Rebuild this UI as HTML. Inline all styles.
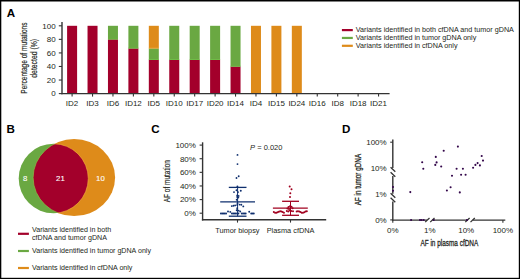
<!DOCTYPE html>
<html><head><meta charset="utf-8"><style>
html,body{margin:0;padding:0;background:#fff;}
svg{display:block;font-family:"Liberation Sans", sans-serif;}
</style></head><body>
<svg width="520" height="279" viewBox="0 0 520 279">
<rect x="0" y="0" width="520" height="279" fill="#fff"/>
<rect x="0.00" y="0.00" width="520.00" height="1.50" fill="#000"/>
<rect x="0.00" y="0.00" width="1.30" height="279.00" fill="#000"/>
<rect x="518.80" y="0.00" width="1.20" height="279.00" fill="#000"/>
<rect x="0.00" y="277.80" width="520.00" height="1.20" fill="#000"/>
<text x="6.80" y="16.80" font-size="11.6" text-anchor="start" font-weight="bold" fill="#000"  >A</text>
<rect x="67.10" y="25.80" width="10.00" height="67.80" fill="#A3002B"/>
<line x1="72.10" y1="93.60" x2="72.10" y2="96.60" stroke="#333" stroke-width="1.1" stroke-linecap="butt"/>
<text x="72.10" y="106.30" font-size="8.0" text-anchor="middle" font-weight="normal" fill="#231F20"  >ID2</text>
<rect x="87.53" y="25.80" width="10.00" height="67.80" fill="#A3002B"/>
<line x1="92.53" y1="93.60" x2="92.53" y2="96.60" stroke="#333" stroke-width="1.1" stroke-linecap="butt"/>
<text x="92.53" y="106.30" font-size="8.0" text-anchor="middle" font-weight="normal" fill="#231F20"  >ID3</text>
<rect x="107.96" y="39.36" width="10.00" height="54.24" fill="#A3002B"/>
<rect x="107.96" y="25.80" width="10.00" height="13.56" fill="#6AA842"/>
<rect x="107.96" y="38.66" width="10.00" height="0.70" fill="#63C23A"/>
<line x1="112.96" y1="93.60" x2="112.96" y2="96.60" stroke="#333" stroke-width="1.1" stroke-linecap="butt"/>
<text x="112.96" y="106.30" font-size="8.0" text-anchor="middle" font-weight="normal" fill="#231F20"  >ID6</text>
<rect x="128.39" y="48.38" width="10.00" height="45.22" fill="#A3002B"/>
<rect x="128.39" y="25.80" width="10.00" height="22.58" fill="#6AA842"/>
<rect x="128.39" y="47.68" width="10.00" height="0.70" fill="#63C23A"/>
<line x1="133.39" y1="93.60" x2="133.39" y2="96.60" stroke="#333" stroke-width="1.1" stroke-linecap="butt"/>
<text x="133.39" y="106.30" font-size="8.0" text-anchor="middle" font-weight="normal" fill="#231F20"  >ID12</text>
<rect x="148.82" y="59.70" width="10.00" height="33.90" fill="#A3002B"/>
<rect x="148.82" y="48.38" width="10.00" height="11.32" fill="#6AA842"/>
<rect x="148.82" y="59.00" width="10.00" height="0.70" fill="#63C23A"/>
<rect x="148.82" y="25.80" width="10.00" height="22.58" fill="#DE8B1A"/>
<rect x="148.82" y="47.68" width="10.00" height="0.70" fill="#F2A434"/>
<line x1="153.82" y1="93.60" x2="153.82" y2="96.60" stroke="#333" stroke-width="1.1" stroke-linecap="butt"/>
<text x="153.82" y="106.30" font-size="8.0" text-anchor="middle" font-weight="normal" fill="#231F20"  >ID5</text>
<rect x="169.25" y="59.70" width="10.00" height="33.90" fill="#A3002B"/>
<rect x="169.25" y="25.80" width="10.00" height="33.90" fill="#6AA842"/>
<rect x="169.25" y="59.00" width="10.00" height="0.70" fill="#63C23A"/>
<line x1="174.25" y1="93.60" x2="174.25" y2="96.60" stroke="#333" stroke-width="1.1" stroke-linecap="butt"/>
<text x="174.25" y="106.30" font-size="8.0" text-anchor="middle" font-weight="normal" fill="#231F20"  >ID10</text>
<rect x="189.68" y="59.70" width="10.00" height="33.90" fill="#A3002B"/>
<rect x="189.68" y="25.80" width="10.00" height="33.90" fill="#6AA842"/>
<rect x="189.68" y="59.00" width="10.00" height="0.70" fill="#63C23A"/>
<line x1="194.68" y1="93.60" x2="194.68" y2="96.60" stroke="#333" stroke-width="1.1" stroke-linecap="butt"/>
<text x="194.68" y="106.30" font-size="8.0" text-anchor="middle" font-weight="normal" fill="#231F20"  >ID17</text>
<rect x="210.11" y="59.70" width="10.00" height="33.90" fill="#A3002B"/>
<rect x="210.11" y="25.80" width="10.00" height="33.90" fill="#6AA842"/>
<rect x="210.11" y="59.00" width="10.00" height="0.70" fill="#63C23A"/>
<line x1="215.11" y1="93.60" x2="215.11" y2="96.60" stroke="#333" stroke-width="1.1" stroke-linecap="butt"/>
<text x="215.11" y="106.30" font-size="8.0" text-anchor="middle" font-weight="normal" fill="#231F20"  >ID20</text>
<rect x="230.54" y="66.48" width="10.00" height="27.12" fill="#A3002B"/>
<rect x="230.54" y="25.80" width="10.00" height="40.68" fill="#6AA842"/>
<rect x="230.54" y="65.78" width="10.00" height="0.70" fill="#63C23A"/>
<line x1="235.54" y1="93.60" x2="235.54" y2="96.60" stroke="#333" stroke-width="1.1" stroke-linecap="butt"/>
<text x="235.54" y="106.30" font-size="8.0" text-anchor="middle" font-weight="normal" fill="#231F20"  >ID14</text>
<rect x="250.97" y="25.80" width="10.00" height="67.80" fill="#DE8B1A"/>
<line x1="255.97" y1="93.60" x2="255.97" y2="96.60" stroke="#333" stroke-width="1.1" stroke-linecap="butt"/>
<text x="255.97" y="106.30" font-size="8.0" text-anchor="middle" font-weight="normal" fill="#231F20"  >ID4</text>
<rect x="271.40" y="25.80" width="10.00" height="67.80" fill="#DE8B1A"/>
<line x1="276.40" y1="93.60" x2="276.40" y2="96.60" stroke="#333" stroke-width="1.1" stroke-linecap="butt"/>
<text x="276.40" y="106.30" font-size="8.0" text-anchor="middle" font-weight="normal" fill="#231F20"  >ID15</text>
<rect x="291.83" y="25.80" width="10.00" height="67.80" fill="#DE8B1A"/>
<line x1="296.83" y1="93.60" x2="296.83" y2="96.60" stroke="#333" stroke-width="1.1" stroke-linecap="butt"/>
<text x="296.83" y="106.30" font-size="8.0" text-anchor="middle" font-weight="normal" fill="#231F20"  >ID24</text>
<line x1="317.26" y1="93.60" x2="317.26" y2="96.60" stroke="#333" stroke-width="1.1" stroke-linecap="butt"/>
<text x="317.26" y="106.30" font-size="8.0" text-anchor="middle" font-weight="normal" fill="#231F20"  >ID16</text>
<line x1="337.69" y1="93.60" x2="337.69" y2="96.60" stroke="#333" stroke-width="1.1" stroke-linecap="butt"/>
<text x="337.69" y="106.30" font-size="8.0" text-anchor="middle" font-weight="normal" fill="#231F20"  >ID8</text>
<line x1="358.12" y1="93.60" x2="358.12" y2="96.60" stroke="#333" stroke-width="1.1" stroke-linecap="butt"/>
<text x="358.12" y="106.30" font-size="8.0" text-anchor="middle" font-weight="normal" fill="#231F20"  >ID18</text>
<line x1="378.55" y1="93.60" x2="378.55" y2="96.60" stroke="#333" stroke-width="1.1" stroke-linecap="butt"/>
<text x="378.55" y="106.30" font-size="8.0" text-anchor="middle" font-weight="normal" fill="#231F20"  >ID21</text>
<line x1="62.00" y1="21.90" x2="62.00" y2="94.20" stroke="#333" stroke-width="1.4" stroke-linecap="butt"/>
<line x1="58.80" y1="25.80" x2="62.00" y2="25.80" stroke="#333" stroke-width="1.1" stroke-linecap="butt"/>
<text x="55.60" y="28.60" font-size="8.0" text-anchor="end" font-weight="normal" fill="#231F20"  >100</text>
<line x1="58.80" y1="39.36" x2="62.00" y2="39.36" stroke="#333" stroke-width="1.1" stroke-linecap="butt"/>
<text x="55.60" y="42.16" font-size="8.0" text-anchor="end" font-weight="normal" fill="#231F20"  >80</text>
<line x1="58.80" y1="52.92" x2="62.00" y2="52.92" stroke="#333" stroke-width="1.1" stroke-linecap="butt"/>
<text x="55.60" y="55.72" font-size="8.0" text-anchor="end" font-weight="normal" fill="#231F20"  >60</text>
<line x1="58.80" y1="66.48" x2="62.00" y2="66.48" stroke="#333" stroke-width="1.1" stroke-linecap="butt"/>
<text x="55.60" y="69.28" font-size="8.0" text-anchor="end" font-weight="normal" fill="#231F20"  >40</text>
<line x1="58.80" y1="80.04" x2="62.00" y2="80.04" stroke="#333" stroke-width="1.1" stroke-linecap="butt"/>
<text x="55.60" y="82.84" font-size="8.0" text-anchor="end" font-weight="normal" fill="#231F20"  >20</text>
<line x1="58.80" y1="93.60" x2="62.00" y2="93.60" stroke="#333" stroke-width="1.1" stroke-linecap="butt"/>
<text x="55.60" y="96.40" font-size="8.0" text-anchor="end" font-weight="normal" fill="#231F20"  >0</text>
<line x1="61.30" y1="93.60" x2="389.60" y2="93.60" stroke="#333" stroke-width="1.4" stroke-linecap="butt"/>
<text transform="translate(26.80,58.10) rotate(-90) scale(0.715,1)" x="0" y="0" font-size="9.2" text-anchor="middle" font-weight="normal" fill="#231F20" stroke="#231F20" stroke-width="0.18">Percentage of mutations</text>
<text transform="translate(37.20,58.30) rotate(-90) scale(0.745,1)" x="0" y="0" font-size="9.2" text-anchor="middle" font-weight="normal" fill="#231F20" stroke="#231F20" stroke-width="0.18">detected (%)</text>
<line x1="341.90" y1="30.10" x2="352.80" y2="30.10" stroke="#A3002B" stroke-width="2.2" stroke-linecap="butt"/>
<text x="355.80" y="31.90" font-size="7.2" text-anchor="start" font-weight="normal" fill="#231F20"  >Variants identified in both cfDNA and tumor gDNA</text>
<line x1="341.90" y1="37.95" x2="352.80" y2="37.95" stroke="#6AA842" stroke-width="2.2" stroke-linecap="butt"/>
<text x="355.80" y="39.75" font-size="7.2" text-anchor="start" font-weight="normal" fill="#231F20"  >Variants identified in tumor gDNA only</text>
<line x1="341.90" y1="45.80" x2="352.80" y2="45.80" stroke="#DE8B1A" stroke-width="2.2" stroke-linecap="butt"/>
<text x="355.80" y="47.60" font-size="7.2" text-anchor="start" font-weight="normal" fill="#231F20"  >Variants identified in cfDNA only</text>
<text x="6.60" y="133.30" font-size="11.6" text-anchor="start" font-weight="bold" fill="#000"  >B</text>
<defs><clipPath id="cg"><circle cx="53.5" cy="178.5" r="34.8"/></clipPath></defs>
<circle cx="53.5" cy="178.5" r="34.8" fill="#6AA842"/>
<ellipse cx="74.1" cy="177.6" rx="41" ry="38.5" fill="#DE8B1A"/>
<ellipse cx="74.1" cy="177.6" rx="41" ry="38.5" fill="#A3002B" clip-path="url(#cg)"/>
<defs><clipPath id="co"><ellipse cx="74.1" cy="177.6" rx="41" ry="38.5"/></clipPath></defs>
<circle cx="53.5" cy="178.5" r="34.8" fill="none" stroke="#F0AC3C" stroke-width="0.7" clip-path="url(#co)"/>
<ellipse cx="74.1" cy="177.6" rx="41" ry="38.5" fill="none" stroke="#7CC04E" stroke-width="0.7" clip-path="url(#cg)"/>
<text x="25.20" y="180.90" font-size="7.8" text-anchor="middle" font-weight="normal" fill="#fff"  stroke="#fff" stroke-width="0.1">8</text>
<text x="60.40" y="181.10" font-size="7.8" text-anchor="middle" font-weight="normal" fill="#fff"  stroke="#fff" stroke-width="0.1">21</text>
<text x="100.40" y="180.90" font-size="7.8" text-anchor="middle" font-weight="normal" fill="#fff"  stroke="#fff" stroke-width="0.1">10</text>
<line x1="18.00" y1="233.80" x2="28.90" y2="233.80" stroke="#A3002B" stroke-width="2.2" stroke-linecap="butt"/>
<text x="32.00" y="231.70" font-size="7.1" text-anchor="start" font-weight="normal" fill="#231F20"  >Variants identified in both</text>
<text x="32.00" y="240.40" font-size="7.1" text-anchor="start" font-weight="normal" fill="#231F20"  >cfDNA and tumor gDNA</text>
<line x1="18.00" y1="251.00" x2="28.90" y2="251.00" stroke="#6AA842" stroke-width="2.2" stroke-linecap="butt"/>
<text x="32.00" y="253.00" font-size="7.1" text-anchor="start" font-weight="normal" fill="#231F20"  >Variants identified in tumor gDNA only</text>
<line x1="18.00" y1="268.00" x2="28.90" y2="268.00" stroke="#DE8B1A" stroke-width="2.2" stroke-linecap="butt"/>
<text x="32.00" y="270.00" font-size="7.1" text-anchor="start" font-weight="normal" fill="#231F20"  >Variants identified in cfDNA only</text>
<text x="151.20" y="133.40" font-size="11.6" text-anchor="start" font-weight="bold" fill="#000"  >C</text>
<line x1="202.60" y1="142.30" x2="202.60" y2="220.50" stroke="#333" stroke-width="1.4" stroke-linecap="butt"/>
<line x1="199.60" y1="145.10" x2="202.60" y2="145.10" stroke="#333" stroke-width="1.1" stroke-linecap="butt"/>
<text x="195.90" y="147.90" font-size="8.0" text-anchor="end" font-weight="normal" fill="#231F20"  >100%</text>
<line x1="199.60" y1="158.72" x2="202.60" y2="158.72" stroke="#333" stroke-width="1.1" stroke-linecap="butt"/>
<text x="195.90" y="161.52" font-size="8.0" text-anchor="end" font-weight="normal" fill="#231F20"  >80%</text>
<line x1="199.60" y1="172.34" x2="202.60" y2="172.34" stroke="#333" stroke-width="1.1" stroke-linecap="butt"/>
<text x="195.90" y="175.14" font-size="8.0" text-anchor="end" font-weight="normal" fill="#231F20"  >60%</text>
<line x1="199.60" y1="185.96" x2="202.60" y2="185.96" stroke="#333" stroke-width="1.1" stroke-linecap="butt"/>
<text x="195.90" y="188.76" font-size="8.0" text-anchor="end" font-weight="normal" fill="#231F20"  >40%</text>
<line x1="199.60" y1="199.58" x2="202.60" y2="199.58" stroke="#333" stroke-width="1.1" stroke-linecap="butt"/>
<text x="195.90" y="202.38" font-size="8.0" text-anchor="end" font-weight="normal" fill="#231F20"  >20%</text>
<line x1="199.60" y1="213.20" x2="202.60" y2="213.20" stroke="#333" stroke-width="1.1" stroke-linecap="butt"/>
<text x="195.90" y="216.00" font-size="8.0" text-anchor="end" font-weight="normal" fill="#231F20"  >0%</text>
<line x1="201.90" y1="219.80" x2="326.20" y2="219.80" stroke="#333" stroke-width="1.4" stroke-linecap="butt"/>
<line x1="237.50" y1="219.80" x2="237.50" y2="222.60" stroke="#333" stroke-width="1.1" stroke-linecap="butt"/>
<line x1="290.50" y1="219.80" x2="290.50" y2="222.60" stroke="#333" stroke-width="1.1" stroke-linecap="butt"/>
<text x="237.40" y="232.50" font-size="7.35" text-anchor="middle" font-weight="normal" fill="#231F20"  >Tumor biopsy</text>
<text x="290.60" y="232.50" font-size="7.35" text-anchor="middle" font-weight="normal" fill="#231F20"  >Plasma cfDNA</text>
<text x="250.1" y="149.8" font-size="7.5" fill="#231F20"><tspan font-style="italic">P</tspan> = 0.020</text>
<text transform="translate(170.00,181.20) rotate(-90) scale(0.72,1)" x="0" y="0" font-size="9.0" text-anchor="middle" font-weight="normal" fill="#231F20" stroke="#231F20" stroke-width="0.15">AF of mutation</text>
<line x1="220.20" y1="201.80" x2="255.00" y2="201.80" stroke="#0F2F6E" stroke-width="1.3" stroke-linecap="butt"/>
<line x1="228.80" y1="187.40" x2="246.50" y2="187.40" stroke="#0F2F6E" stroke-width="1.3" stroke-linecap="butt"/>
<line x1="228.80" y1="216.20" x2="246.50" y2="216.20" stroke="#0F2F6E" stroke-width="1.3" stroke-linecap="butt"/>
<line x1="237.60" y1="187.40" x2="237.60" y2="216.20" stroke="#0F2F6E" stroke-width="1.0" stroke-linecap="butt"/>
<circle cx="237.50" cy="154.90" r="0.95" fill="#0F2F6E"/>
<circle cx="237.50" cy="164.10" r="0.95" fill="#0F2F6E"/>
<circle cx="236.50" cy="178.00" r="0.95" fill="#0F2F6E"/>
<circle cx="238.70" cy="176.30" r="0.95" fill="#0F2F6E"/>
<circle cx="237.40" cy="186.40" r="0.95" fill="#0F2F6E"/>
<circle cx="236.50" cy="190.30" r="0.95" fill="#0F2F6E"/>
<circle cx="240.80" cy="190.70" r="0.95" fill="#0F2F6E"/>
<circle cx="234.00" cy="192.10" r="0.95" fill="#0F2F6E"/>
<circle cx="238.00" cy="192.10" r="0.95" fill="#0F2F6E"/>
<circle cx="237.20" cy="195.40" r="0.95" fill="#0F2F6E"/>
<circle cx="238.60" cy="195.90" r="0.95" fill="#0F2F6E"/>
<circle cx="237.20" cy="197.00" r="0.95" fill="#0F2F6E"/>
<circle cx="238.30" cy="197.50" r="0.95" fill="#0F2F6E"/>
<circle cx="236.70" cy="199.70" r="0.95" fill="#0F2F6E"/>
<circle cx="237.50" cy="203.20" r="0.95" fill="#0F2F6E"/>
<circle cx="231.80" cy="206.10" r="0.95" fill="#0F2F6E"/>
<circle cx="233.50" cy="205.80" r="0.95" fill="#0F2F6E"/>
<circle cx="235.10" cy="205.40" r="0.95" fill="#0F2F6E"/>
<circle cx="237.20" cy="205.00" r="0.95" fill="#0F2F6E"/>
<circle cx="239.60" cy="204.60" r="0.95" fill="#0F2F6E"/>
<circle cx="241.30" cy="204.80" r="0.95" fill="#0F2F6E"/>
<circle cx="243.30" cy="206.40" r="0.95" fill="#0F2F6E"/>
<circle cx="237.20" cy="208.30" r="0.95" fill="#0F2F6E"/>
<circle cx="236.70" cy="210.30" r="0.95" fill="#0F2F6E"/>
<circle cx="238.60" cy="210.60" r="0.95" fill="#0F2F6E"/>
<circle cx="240.20" cy="211.50" r="0.95" fill="#0F2F6E"/>
<circle cx="228.00" cy="211.50" r="0.95" fill="#0F2F6E"/>
<circle cx="230.30" cy="211.90" r="0.95" fill="#0F2F6E"/>
<circle cx="249.20" cy="211.80" r="0.95" fill="#0F2F6E"/>
<circle cx="220.90" cy="213.50" r="0.95" fill="#0F2F6E"/>
<circle cx="222.20" cy="213.50" r="0.95" fill="#0F2F6E"/>
<circle cx="223.50" cy="213.50" r="0.95" fill="#0F2F6E"/>
<circle cx="224.80" cy="213.50" r="0.95" fill="#0F2F6E"/>
<circle cx="226.10" cy="213.50" r="0.95" fill="#0F2F6E"/>
<circle cx="231.90" cy="213.50" r="0.95" fill="#0F2F6E"/>
<circle cx="233.20" cy="213.50" r="0.95" fill="#0F2F6E"/>
<circle cx="234.50" cy="213.50" r="0.95" fill="#0F2F6E"/>
<circle cx="235.80" cy="213.50" r="0.95" fill="#0F2F6E"/>
<circle cx="237.10" cy="213.50" r="0.95" fill="#0F2F6E"/>
<circle cx="238.40" cy="213.50" r="0.95" fill="#0F2F6E"/>
<circle cx="241.80" cy="213.50" r="0.95" fill="#0F2F6E"/>
<circle cx="243.10" cy="213.50" r="0.95" fill="#0F2F6E"/>
<circle cx="244.40" cy="213.50" r="0.95" fill="#0F2F6E"/>
<circle cx="245.70" cy="213.50" r="0.95" fill="#0F2F6E"/>
<circle cx="251.20" cy="213.50" r="0.95" fill="#0F2F6E"/>
<circle cx="252.50" cy="213.50" r="0.95" fill="#0F2F6E"/>
<circle cx="253.80" cy="213.50" r="0.95" fill="#0F2F6E"/>
<line x1="272.90" y1="208.10" x2="307.80" y2="208.10" stroke="#A1001F" stroke-width="1.3" stroke-linecap="butt"/>
<line x1="282.10" y1="201.30" x2="299.00" y2="201.30" stroke="#A1001F" stroke-width="1.3" stroke-linecap="butt"/>
<line x1="282.10" y1="215.30" x2="299.00" y2="215.30" stroke="#A1001F" stroke-width="1.3" stroke-linecap="butt"/>
<line x1="290.50" y1="201.30" x2="290.50" y2="215.30" stroke="#A1001F" stroke-width="1.0" stroke-linecap="butt"/>
<circle cx="289.70" cy="186.50" r="1.0" fill="#A1001F"/>
<circle cx="291.50" cy="189.30" r="1.0" fill="#A1001F"/>
<circle cx="290.30" cy="193.30" r="1.0" fill="#A1001F"/>
<circle cx="290.00" cy="196.90" r="1.0" fill="#A1001F"/>
<circle cx="288.50" cy="207.00" r="1.0" fill="#A1001F"/>
<circle cx="290.00" cy="206.30" r="1.0" fill="#A1001F"/>
<circle cx="291.50" cy="206.80" r="1.0" fill="#A1001F"/>
<circle cx="292.60" cy="208.30" r="1.0" fill="#A1001F"/>
<circle cx="289.00" cy="208.90" r="1.0" fill="#A1001F"/>
<circle cx="287.40" cy="208.60" r="1.0" fill="#A1001F"/>
<circle cx="289.50" cy="210.50" r="1.0" fill="#A1001F"/>
<circle cx="291.20" cy="210.90" r="1.0" fill="#A1001F"/>
<circle cx="293.00" cy="211.30" r="1.0" fill="#A1001F"/>
<circle cx="286.80" cy="211.00" r="1.0" fill="#A1001F"/>
<circle cx="288.20" cy="211.60" r="1.0" fill="#A1001F"/>
<circle cx="273.80" cy="212.00" r="1.0" fill="#A1001F"/>
<circle cx="275.07" cy="212.63" r="1.0" fill="#A1001F"/>
<circle cx="276.34" cy="212.78" r="1.0" fill="#A1001F"/>
<circle cx="277.61" cy="212.34" r="1.0" fill="#A1001F"/>
<circle cx="278.88" cy="211.65" r="1.0" fill="#A1001F"/>
<circle cx="280.15" cy="211.22" r="1.0" fill="#A1001F"/>
<circle cx="281.42" cy="211.38" r="1.0" fill="#A1001F"/>
<circle cx="282.69" cy="212.01" r="1.0" fill="#A1001F"/>
<circle cx="283.96" cy="212.63" r="1.0" fill="#A1001F"/>
<circle cx="296.66" cy="211.62" r="1.0" fill="#A1001F"/>
<circle cx="297.93" cy="211.21" r="1.0" fill="#A1001F"/>
<circle cx="299.20" cy="211.40" r="1.0" fill="#A1001F"/>
<circle cx="300.47" cy="212.04" r="1.0" fill="#A1001F"/>
<circle cx="301.74" cy="212.65" r="1.0" fill="#A1001F"/>
<circle cx="303.01" cy="212.77" r="1.0" fill="#A1001F"/>
<circle cx="304.28" cy="212.31" r="1.0" fill="#A1001F"/>
<circle cx="305.55" cy="211.61" r="1.0" fill="#A1001F"/>
<circle cx="306.82" cy="211.21" r="1.0" fill="#A1001F"/>
<text x="342.00" y="133.30" font-size="11.6" text-anchor="start" font-weight="bold" fill="#000"  >D</text>
<line x1="392.80" y1="139.40" x2="392.80" y2="168.00" stroke="#333" stroke-width="1.4" stroke-linecap="butt"/>
<line x1="392.80" y1="176.00" x2="392.80" y2="193.80" stroke="#333" stroke-width="1.4" stroke-linecap="butt"/>
<line x1="392.80" y1="201.60" x2="392.80" y2="220.60" stroke="#333" stroke-width="1.4" stroke-linecap="butt"/>
<line x1="390.60" y1="167.30" x2="395.30" y2="171.70" stroke="#333" stroke-width="1.3" stroke-linecap="butt"/>
<line x1="390.60" y1="172.30" x2="395.30" y2="176.70" stroke="#333" stroke-width="1.3" stroke-linecap="butt"/>
<line x1="390.60" y1="193.30" x2="395.30" y2="197.70" stroke="#333" stroke-width="1.3" stroke-linecap="butt"/>
<line x1="390.60" y1="197.80" x2="395.30" y2="202.20" stroke="#333" stroke-width="1.3" stroke-linecap="butt"/>
<line x1="390.20" y1="142.20" x2="392.80" y2="142.20" stroke="#333" stroke-width="1.1" stroke-linecap="butt"/>
<text x="386.70" y="145.00" font-size="8.0" text-anchor="end" font-weight="normal" fill="#231F20"  >100%</text>
<text x="386.70" y="171.00" font-size="8.0" text-anchor="end" font-weight="normal" fill="#231F20"  >10%</text>
<text x="386.70" y="197.10" font-size="8.0" text-anchor="end" font-weight="normal" fill="#231F20"  >1%</text>
<line x1="390.20" y1="219.90" x2="392.80" y2="219.90" stroke="#333" stroke-width="1.1" stroke-linecap="butt"/>
<text x="386.70" y="222.70" font-size="8.0" text-anchor="end" font-weight="normal" fill="#231F20"  >0%</text>
<line x1="392.10" y1="220.10" x2="427.00" y2="220.10" stroke="#333" stroke-width="1.4" stroke-linecap="butt"/>
<line x1="432.50" y1="220.10" x2="467.30" y2="220.10" stroke="#333" stroke-width="1.4" stroke-linecap="butt"/>
<line x1="472.80" y1="220.10" x2="505.30" y2="220.10" stroke="#333" stroke-width="1.4" stroke-linecap="butt"/>
<line x1="425.20" y1="222.10" x2="429.50" y2="218.00" stroke="#333" stroke-width="1.3" stroke-linecap="butt"/>
<line x1="430.20" y1="222.10" x2="434.50" y2="218.00" stroke="#333" stroke-width="1.3" stroke-linecap="butt"/>
<line x1="465.30" y1="222.10" x2="469.60" y2="218.00" stroke="#333" stroke-width="1.3" stroke-linecap="butt"/>
<line x1="470.50" y1="222.10" x2="474.80" y2="218.00" stroke="#333" stroke-width="1.3" stroke-linecap="butt"/>
<line x1="392.80" y1="220.10" x2="392.80" y2="222.70" stroke="#333" stroke-width="1.1" stroke-linecap="butt"/>
<text x="392.80" y="232.80" font-size="8.0" text-anchor="middle" font-weight="normal" fill="#231F20"  >0%</text>
<text x="429.80" y="232.80" font-size="8.0" text-anchor="middle" font-weight="normal" fill="#231F20"  >1%</text>
<text x="466.20" y="232.80" font-size="8.0" text-anchor="middle" font-weight="normal" fill="#231F20"  >10%</text>
<line x1="502.90" y1="220.10" x2="502.90" y2="222.70" stroke="#333" stroke-width="1.1" stroke-linecap="butt"/>
<text x="502.90" y="232.80" font-size="8.0" text-anchor="middle" font-weight="normal" fill="#231F20"  >100%</text>
<text transform="translate(420.4,245.5) scale(0.715,1)" x="0" y="0" font-size="9" fill="#231F20" font-weight="normal" stroke="#231F20" stroke-width="0.28">AF in plasma cfDNA</text>
<text transform="translate(360.6,179.6) rotate(-90) scale(0.707,1)" x="0" y="0" font-size="9" text-anchor="middle" fill="#231F20" stroke="#231F20" stroke-width="0.28">AF in tumor gDNA</text>
<circle cx="422.20" cy="162.20" r="1.05" fill="#33064A"/>
<circle cx="423.30" cy="168.70" r="1.05" fill="#33064A"/>
<circle cx="435.80" cy="156.90" r="1.05" fill="#33064A"/>
<circle cx="436.60" cy="162.40" r="1.05" fill="#33064A"/>
<circle cx="435.30" cy="164.90" r="1.05" fill="#33064A"/>
<circle cx="441.20" cy="166.50" r="1.05" fill="#33064A"/>
<circle cx="443.70" cy="150.80" r="1.05" fill="#33064A"/>
<circle cx="452.00" cy="175.80" r="1.05" fill="#33064A"/>
<circle cx="457.90" cy="146.60" r="1.05" fill="#33064A"/>
<circle cx="456.60" cy="168.70" r="1.05" fill="#33064A"/>
<circle cx="462.90" cy="168.70" r="1.05" fill="#33064A"/>
<circle cx="461.10" cy="174.80" r="1.05" fill="#33064A"/>
<circle cx="465.60" cy="174.80" r="1.05" fill="#33064A"/>
<circle cx="473.10" cy="167.80" r="1.05" fill="#33064A"/>
<circle cx="475.40" cy="164.90" r="1.05" fill="#33064A"/>
<circle cx="477.60" cy="163.10" r="1.05" fill="#33064A"/>
<circle cx="479.90" cy="165.40" r="1.05" fill="#33064A"/>
<circle cx="481.70" cy="156.00" r="1.05" fill="#33064A"/>
<circle cx="483.00" cy="160.60" r="1.05" fill="#33064A"/>
<circle cx="410.30" cy="192.10" r="1.05" fill="#33064A"/>
<circle cx="446.90" cy="190.50" r="1.05" fill="#33064A"/>
<circle cx="450.60" cy="187.30" r="1.05" fill="#33064A"/>
<circle cx="459.80" cy="192.40" r="1.05" fill="#33064A"/>
<circle cx="393.00" cy="187.00" r="1.05" fill="#33064A"/>
<circle cx="393.00" cy="190.70" r="1.05" fill="#33064A"/>
<circle cx="411.10" cy="220.00" r="1.05" fill="#33064A"/>
<circle cx="420.00" cy="220.00" r="1.05" fill="#33064A"/>
<circle cx="421.60" cy="220.00" r="1.05" fill="#33064A"/>
<circle cx="423.70" cy="220.00" r="1.05" fill="#33064A"/>
<circle cx="433.70" cy="220.00" r="1.05" fill="#33064A"/>
<circle cx="467.00" cy="220.00" r="1.05" fill="#33064A"/>
</svg>
</body></html>
